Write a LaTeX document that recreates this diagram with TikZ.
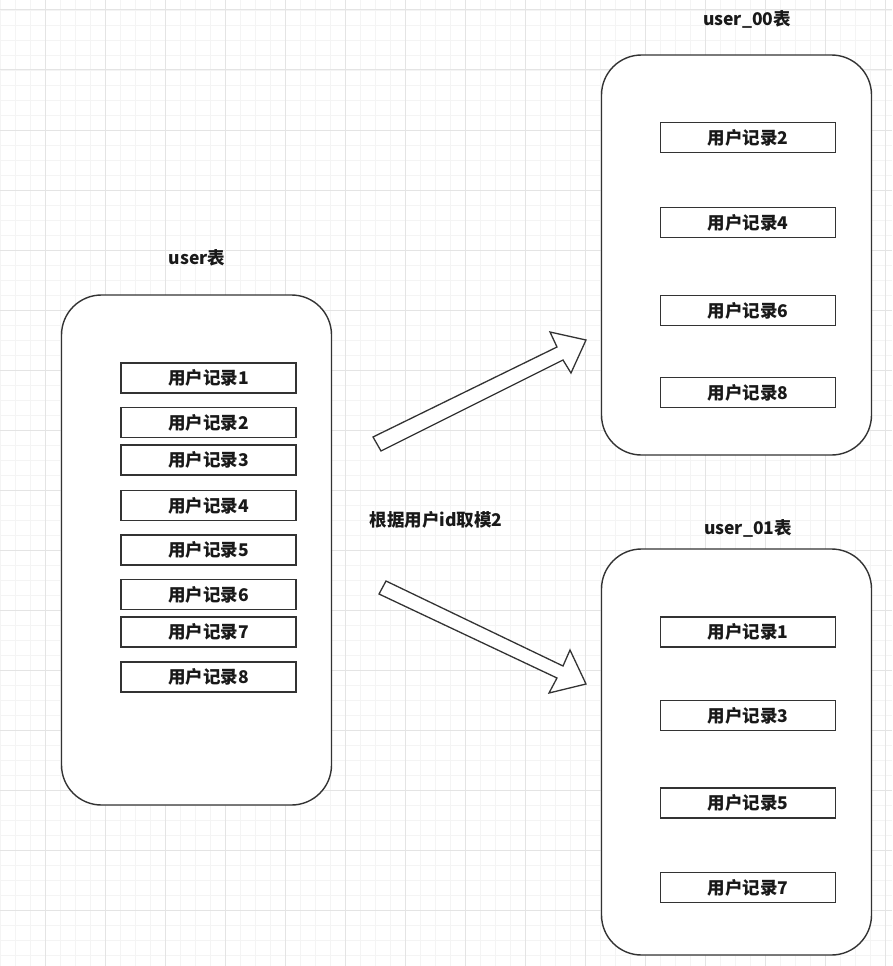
\documentclass[tikz,border=0pt]{standalone}
\usepackage{fontspec}
\setmainfont{Noto Sans CJK SC}
\definecolor{minorc}{HTML}{F4F4F4}
\definecolor{majorc}{HTML}{E4E4E4}
\definecolor{linec}{HTML}{333333}
\tikzset{
  minorline/.style={draw=minorc, line width=0.8pt},
  majorline/.style={draw=majorc, line width=1pt},
  container/.style={draw=linec, line width=1.4pt, fill=white, rounded corners=40pt, minimum width=270pt, inner sep=0pt},
  rec/.style={draw=linec, line width=1.3pt, fill=white, minimum width=175pt, minimum height=30pt, inner sep=0pt, font=\fontsize{17.5}{19}\selectfont\bfseries, text=black!90},
  title/.style={font=\fontsize{17.5}{19}\selectfont\bfseries, text=black!90, inner sep=0pt},
  blockarrow/.style={draw=linec, line width=1.3pt, fill=white, line join=miter}
}
\begin{document}
\begin{tikzpicture}[x=1pt,y=-1pt]
\useasboundingbox (0,0) rectangle (892,966);
\fill[white] (0,0) rectangle (892,966);
% grid
\foreach \x in {0,15,...,890} \draw[minorline] (\x,0) -- (\x,966);
\foreach \y in {10,25,...,965} \draw[minorline] (0,\y) -- (892,\y);
\foreach \x in {45,105,...,890} \draw[majorline] (\x,0) -- (\x,966);
\foreach \y in {10,70,...,965} \draw[majorline] (0,\y) -- (892,\y);

% containers
\node[container, minimum height=510pt] (user) at (196.5,550) {};
\node[container, minimum height=400pt] (u00) at (736.5,255) {};
\node[container, minimum height=406pt] (u01) at (736.5,752) {};

% titles
\node[title] (tuser) at (197,258) {user表};
\node[title] (t00) at (747,19) {user\_00表};
\node[title] (t01) at (748,528) {user\_01表};

% left records
\node[rec] (l1) at (208.5,378) {用户记录1};
\node[rec] (l2) at (208.5,422.5) {用户记录2};
\node[rec] (l3) at (208.5,460) {用户记录3};
\node[rec] (l4) at (208.5,505.5) {用户记录4};
\node[rec] (l5) at (208.5,550) {用户记录5};
\node[rec] (l6) at (208.5,594.5) {用户记录6};
\node[rec] (l7) at (208.5,632) {用户记录7};
\node[rec] (l8) at (208.5,677) {用户记录8};

% right top records
\node[rec] (a2) at (748,137.5) {用户记录2};
\node[rec] (a4) at (748,222.5) {用户记录4};
\node[rec] (a6) at (748,310.5) {用户记录6};
\node[rec] (a8) at (748,392.5) {用户记录8};

% right bottom records
\node[rec] (b1) at (748,632) {用户记录1};
\node[rec] (b3) at (748,715.5) {用户记录3};
\node[rec] (b5) at (748,803) {用户记录5};
\node[rec] (b7) at (748,887.5) {用户记录7};

% label
\node[title] (lbl) at (436,520) {根据用户id取模2};

% block arrows
\draw[blockarrow] (373,437) -- (557,347) -- (550,332) -- (586,340) -- (571,373) -- (563,360) -- (381,451) -- cycle;
\draw[blockarrow] (386,581) -- (563,666) -- (570,650) -- (586,684) -- (549,693) -- (557,678) -- (379,594) -- cycle;
\end{tikzpicture}
\end{document}
